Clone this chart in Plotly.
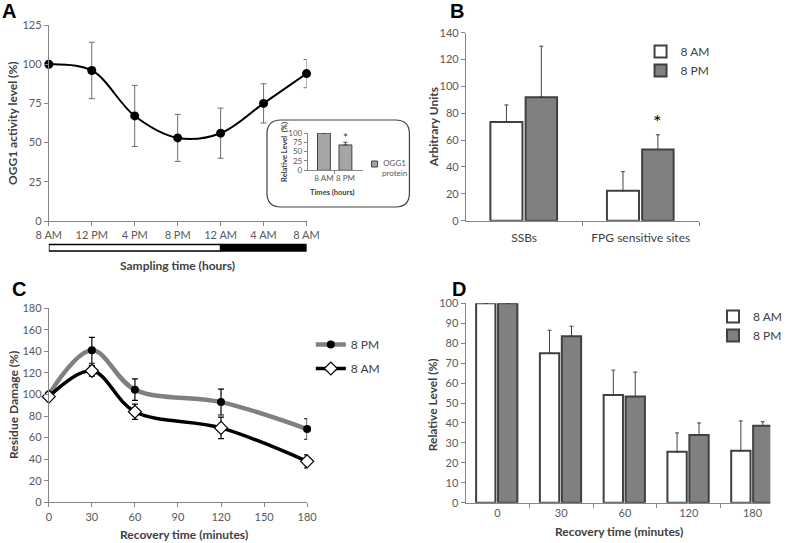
import plotly.graph_objects as go

# ---------------- data ----------------
a_times = ["8 AM", "12 PM", "4 PM", "8 PM", "12 AM", "4 AM", "8 AM"]
a_activity = [100, 96, 67, 53, 56, 75, 94]
a_err = [0, 18, 19.5, 15, 16, 12.5, 9]

inset_times = ["8 AM", "8 PM"]
inset_level = [100, 68]
inset_err = [0, 7]

b_cats = ["SSBs", "FPG sensitive sites"]
b_am = [73.5, 22.3]
b_am_err = [12.7, 14.2]
b_pm = [92, 53]
b_pm_err = [38, 11]

c_time = [0, 30, 60, 120, 180]
c_pm = [100, 141, 104.5, 93, 68]
c_pm_err = [0, 12, 10, 12, 9.5]
c_am = [98, 122, 84, 69, 38]
c_am_err = [0, 5, 7, 10, 6]

d_cats = ["0", "30", "60", "120", "180"]
d_am = [100, 75, 54, 25.5, 26]
d_am_err = [0, 11.5, 12.5, 9.5, 15]
d_pm = [100, 83.5, 53.2, 34, 38.6]
d_pm_err = [0, 5, 12.3, 6, 2]

# ---------------- helpers ----------------
W, H = 787, 543
FONT = "Lato, 'Liberation Sans', sans-serif"
TICK_C = "#595959"
AX_C = "#868686"
TITLE_C = "#404040"
GRAY = "#808080"
EDGE = "#404040"


def px(x):
    return x / W


def py(y):
    return 1 - y / H


def axis(**kw):
    d = dict(showline=True, linecolor=AX_C, linewidth=1, ticks="outside",
             ticklen=4, tickcolor=AX_C, showgrid=False, zeroline=False,
             automargin=False, tickangle=0,
             tickfont=dict(family=FONT, size=11, color=TICK_C), fixedrange=True)
    d.update(kw)
    return d


fig = go.Figure()

# ---------------- Panel A ----------------
a_x = list(range(len(a_times)))
fig.add_trace(go.Scatter(
    x=a_x, y=a_activity, mode="lines+markers", xaxis="x", yaxis="y",
    line=dict(color="black", width=2, shape="spline", smoothing=1.0),
    marker=dict(color="black", size=9), cliponaxis=False,
    error_y=dict(type="data", array=a_err, color="#6f6f6f", thickness=1, width=3),
    showlegend=False))

# inset
i_x = list(range(len(inset_times)))
fig.add_trace(go.Bar(
    x=i_x, y=inset_level, xaxis="x2", yaxis="y2", width=0.6,
    marker=dict(color="#a6a6a6", line=dict(color=EDGE, width=1)),
    error_y=dict(type="data", array=inset_err, arrayminus=[0] * len(inset_err),
                 symmetric=False, color=EDGE, thickness=1, width=2),
    showlegend=False))

# ---------------- Panel B ----------------
b_x = list(range(len(b_cats)))
fig.add_trace(go.Bar(
    x=b_x, y=b_am, xaxis="x3", yaxis="y3", name="8 AM", legend="legend2",
    offset=-0.29, width=0.275,
    marker=dict(color="white", line=dict(color=EDGE, width=2)),
    error_y=dict(type="data", array=b_am_err, arrayminus=[0] * 2, symmetric=False,
                 color=EDGE, thickness=1, width=2)))
fig.add_trace(go.Bar(
    x=b_x, y=b_pm, xaxis="x3", yaxis="y3", name="8 PM", legend="legend2",
    offset=0.012, width=0.27,
    marker=dict(color=GRAY, line=dict(color=EDGE, width=2)),
    error_y=dict(type="data", array=b_pm_err, arrayminus=[0] * 2, symmetric=False,
                 color=EDGE, thickness=1, width=2)))

# ---------------- Panel C ----------------
fig.add_trace(go.Scatter(
    x=c_time, y=c_pm, mode="lines+markers", xaxis="x4", yaxis="y4",
    name="8 PM", legend="legend3", legendgroup="pm", cliponaxis=False,
    line=dict(color=GRAY, width=4.5, shape="spline", smoothing=1.0),
    marker=dict(color="black", size=8, symbol="circle"),
    error_y=dict(type="data", array=c_pm_err, color="black", thickness=1.2, width=3)))
fig.add_trace(go.Scatter(
    x=c_time, y=c_am, mode="lines+markers", xaxis="x4", yaxis="y4",
    name="8 AM", legend="legend3", legendgroup="am", cliponaxis=False,
    line=dict(color="black", width=3.5, shape="spline", smoothing=1.0),
    marker=dict(color="white", size=10, symbol="diamond",
                line=dict(color="black", width=1.2)),
    error_y=dict(type="data", array=c_am_err, color="black", thickness=1.2, width=3)))

# ---------------- Panel D ----------------
d_x = list(range(len(d_cats)))
fig.add_trace(go.Bar(
    x=d_x, y=d_am, xaxis="x5", yaxis="y5", name="8 AM", legend="legend4",
    offset=-0.334, width=0.303,
    marker=dict(color="white", line=dict(color=EDGE, width=2)),
    error_y=dict(type="data", array=d_am_err, arrayminus=[0] * 5, symmetric=False,
                 color=EDGE, thickness=1, width=2)))
fig.add_trace(go.Bar(
    x=d_x, y=d_pm, xaxis="x5", yaxis="y5", name="8 PM", legend="legend4",
    offset=0.01, width=0.303,
    marker=dict(color=GRAY, line=dict(color=EDGE, width=2)),
    error_y=dict(type="data", array=d_pm_err, arrayminus=[0] * 5, symmetric=False,
                 color=EDGE, thickness=1, width=2)))

# ---------------- axes ----------------
small = dict(family=FONT, size=8, color=TICK_C)
fig.update_layout(
    xaxis=axis(domain=[px(49), px(307.7)], range=[0, 6], anchor="y",
               tickvals=a_x, ticktext=a_times),
    yaxis=axis(domain=[py(221), py(25)], range=[0, 125], dtick=25, anchor="x"),
    xaxis2=axis(domain=[px(309), px(364)], range=[-0.75, 1.8], anchor="y2",
                tickvals=i_x, ticktext=inset_times, ticks="", tickfont=small,
                minor=dict(tickvals=[0.5], ticks="outside", ticklen=3, tickcolor=AX_C)),
    yaxis2=axis(domain=[py(170.3), py(133)], range=[0, 100], anchor="x2",
                tickvals=[0, 25, 50, 75, 100], ticklen=3, tickfont=small),
    xaxis3=axis(domain=[px(467.7), px(701.7)], range=[-0.5, 1.5], anchor="y3",
                tickvals=b_x, ticktext=b_cats, ticks="", ticklabelstandoff=6,
                tickfont=dict(family=FONT, size=12, color=TITLE_C),
                minor=dict(tickvals=[0.5, 1.5], ticks="outside", ticklen=4, tickcolor=AX_C)),
    yaxis3=axis(domain=[py(220.7), py(32.7)], range=[0, 140], dtick=20, anchor="x3"),
    xaxis4=axis(domain=[px(49), px(308.3)], range=[0, 180], dtick=30, anchor="y4"),
    yaxis4=axis(domain=[py(502.3), py(308.3)], range=[0, 180], dtick=20, anchor="x4"),
    xaxis5=axis(domain=[px(467.3), px(773.3)], range=[-0.5, 4.28], anchor="y5",
                tickvals=d_x, ticktext=d_cats, ticks="",
                minor=dict(tickvals=[0.5, 1.5, 2.5, 3.5], ticks="outside", ticklen=4,
                           tickcolor=AX_C)),
    yaxis5=axis(domain=[py(502.7), py(303.3)], range=[0, 100], dtick=10, anchor="x5"),
)

# ---------------- legends ----------------
leg_font = dict(family=FONT, size=12, color=TITLE_C)
fig.update_layout(
    legend2=dict(x=px(643), y=py(37), xanchor="left", yanchor="top",
                 font=leg_font, bgcolor="rgba(0,0,0,0)", itemclick=False),
    legend3=dict(x=px(312), y=py(330), xanchor="left", yanchor="top",
                 font=leg_font, bgcolor="rgba(0,0,0,0)", tracegroupgap=5,
                 itemclick=False),
    legend4=dict(x=px(716), y=py(302), xanchor="left", yanchor="top",
                 font=leg_font, bgcolor="rgba(0,0,0,0)", itemclick=False),
)

# ---------------- shapes ----------------
shapes = []
# inset rounded frame
x0, x1 = px(268), px(411)
yb, yt = py(207), py(120)
rx, ry = 14 / W, 14 / H
path = (f"M {x0+rx},{yt} L {x1-rx},{yt} Q {x1},{yt} {x1},{yt-ry} "
        f"L {x1},{yb+ry} Q {x1},{yb} {x1-rx},{yb} L {x0+rx},{yb} "
        f"Q {x0},{yb} {x0},{yb+ry} L {x0},{yt-ry} Q {x0},{yt} {x0+rx},{yt} Z")
shapes.append(dict(type="path", xref="paper", yref="paper", path=path,
                   line=dict(color=EDGE, width=1.2), fillcolor="rgba(0,0,0,0)",
                   layer="below"))
# inset legend key
shapes.append(dict(type="rect", xref="paper", yref="paper",
                   x0=px(373), x1=px(379), y0=py(167), y1=py(161),
                   fillcolor="#a6a6a6", line=dict(color=EDGE, width=1)))
# day / night bar under panel A
night_start = a_times.index("12 AM")
shapes.append(dict(type="rect", xref="x", yref="paper", x0=0, x1=night_start,
                   y0=py(251), y1=py(244.5), fillcolor="white",
                   line=dict(color="black", width=1.5)))
shapes.append(dict(type="rect", xref="x", yref="paper", x0=night_start,
                   x1=len(a_times) - 1, y0=py(251), y1=py(244.5), fillcolor="black",
                   line=dict(color="black", width=1.5)))
fig.update_layout(shapes=shapes)

# ---------------- annotations ----------------
title_font = dict(family=FONT, size=12, color=TITLE_C, weight="bold")
letter_font = dict(family="'Liberation Sans', Arial, sans-serif", size=20,
                   color="black", weight="bold")
ann = []


def text(x, y, s, font, angle=0, xanchor="center"):
    ann.append(dict(x=px(x), y=py(y), xref="paper", yref="paper", text=s,
                    showarrow=False, font=font, textangle=angle,
                    xanchor=xanchor, yanchor="middle"))


text(9, 11, "A", letter_font)
text(459, 11, "B", letter_font)
text(19, 289, "C", letter_font)
text(461, 289, "D", letter_font)

text(13, 123, "OGG1 activity level (%)", title_font, angle=-90)
text(178, 265, "Sampling time (hours)", title_font)
text(436, 127, "Arbitrary Units", title_font, angle=-90)
text(13, 405, "Residue Damage (%)", title_font, angle=-90)
text(185, 534, "Recovery time (minutes)", title_font)
text(434, 405, "Relative Level (%)", title_font, angle=-90)
text(621, 531, "Recovery time (minutes)", title_font)

# inset texts
inset_title = dict(family=FONT, size=7.5, color=TITLE_C, weight="bold")
text(286, 152, "Relative Level  (%)", inset_title, angle=-90)
text(334, 192, "Times (hours)", inset_title)
text(381, 167.5, "OGG1<br>protein", dict(family=FONT, size=8, color=TICK_C),
     xanchor="left")

# significance asterisks
ann.append(dict(x=1, y=inset_level[1] + inset_err[1] + 12, xref="x2", yref="y2",
                text="*", showarrow=False,
                font=dict(family=FONT, size=12, color=TITLE_C)))
ann.append(dict(x=1 + 0.147, y=b_pm[1] + b_pm_err[1] + 10, xref="x3", yref="y3",
                text="*", showarrow=False,
                font=dict(family=FONT, size=20, color="black")))
fig.update_layout(annotations=ann)

fig.update_layout(
    width=W, height=H, margin=dict(l=0, r=0, t=0, b=0),
    paper_bgcolor="white", plot_bgcolor="white", barmode="overlay",
    font=dict(family=FONT),
)

fig.write_html("out.html",
               config={"displayModeBar": False},
               post_script="document.body.style.margin='0';"
                           "document.body.style.padding='0';"
                           "document.body.style.overflow='hidden';")
